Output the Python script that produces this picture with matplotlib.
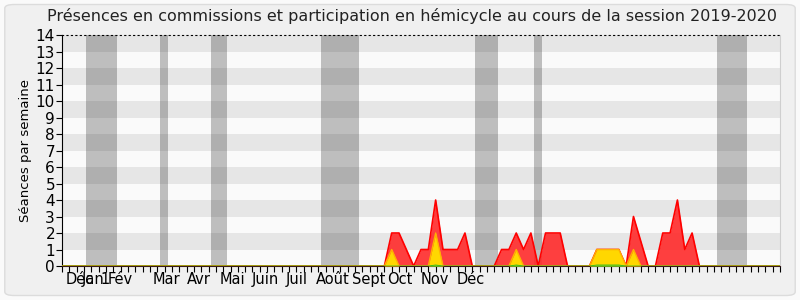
import matplotlib
matplotlib.use("Agg")
import matplotlib.pyplot as plt
from matplotlib.patches import FancyBboxPatch
import numpy as np

# weekly values (week index 0..98), only non-zero weeks listed
presence_weeks = [44, 45, 46, 47, 48, 49, 50, 51, 52, 53, 54, 55, 56,
                  59, 60, 61, 62, 63, 64, 65, 66, 67, 68, 69,
                  72, 73, 74, 75, 76, 77, 78, 79, 80, 81, 82, 83, 84, 85, 86, 87]
presence_vals = [0, 2, 2, 1, 0, 1, 1, 4, 1, 1, 1, 2, 0,
                 0, 1, 1, 2, 1, 2, 0, 2, 2, 2, 0,
                 0, 1, 1, 1, 1, 0, 3, 1.5, 0, 0, 2, 2, 4, 1, 2, 0]
hemicycle_weeks = [44, 45, 46, 50, 51, 52, 61, 62, 63, 72, 73, 74, 75, 76, 77, 78, 79]
hemicycle_vals = [0, 1, 0, 0, 2, 0, 0, 1, 0, 0, 1, 1, 1, 1, 0, 1, 0]
questions_weeks = [50, 51, 52, 61, 62, 63, 72, 73, 74, 75, 76, 77]
questions_vals = [0, 0.06, 0, 0, 0.06, 0, 0, 0.06, 0.06, 0.06, 0.06, 0]

# vacation periods (start, end) in weeks
vacances = [(3.28, 7.51), (13.37, 14.47), (20.34, 22.52), (35.35, 40.54),
            (56.37, 59.51), (64.42, 65.51), (89.39, 93.49)]

mois_pos = [2.46, 4.23, 5.87, 7.9, 14.2, 18.7, 23.3, 27.8, 32.1, 37.0, 41.9, 46.1, 50.9, 55.8]
mois_labels = ["Déc", "Jan", "1", "Fév", "Mar", "Avr", "Mai", "Juin", "Juil", "Août",
               "Sept", "Oct", "Nov", "Déc"]

n_weeks = 98


def full_series(weeks, vals):
    s = np.zeros(n_weeks + 1)
    for w, v in zip(weeks, vals):
        s[w] = v
    return s


x = np.arange(n_weeks + 1)
presence = full_series(presence_weeks, presence_vals)
hemicycle = full_series(hemicycle_weeks, hemicycle_vals)
questions = full_series(questions_weeks, questions_vals)

fig = plt.figure(figsize=(8, 3), dpi=100, facecolor="#fafafa")
fig.patches.append(FancyBboxPatch((0.006, 0.015), 0.988, 0.97, boxstyle="round,pad=0,rounding_size=0.012",
                                  transform=fig.transFigure, facecolor="#f0f0f0",
                                  edgecolor="#dcdcdc", linewidth=1, zorder=-10))
ax = fig.add_axes([0.0775, 0.1133, 0.8975, 0.77])
ax.set_facecolor("#fafafa")

for k in range(0, 14, 2):
    ax.axhspan(k + 1, k + 2, color="#e6e6e6", lw=0, zorder=0)
for a, b in vacances:
    ax.axvspan(a, b, color="black", alpha=0.24, lw=0, zorder=1)

ax.fill_between(x, presence, color="#ff2a2a", alpha=0.9, lw=0, zorder=2)
ax.plot(x, presence, color="#ff0000", lw=1.2, zorder=3)
ax.fill_between(x, hemicycle, color="#ffd700", lw=0, zorder=4)
ax.plot(x, hemicycle, color="#ffb000", lw=1.0, zorder=5)
ax.fill_between(x, questions, color="#33cc33", lw=0, zorder=6)
ax.plot(x, questions, color="#22bb22", lw=0.6, zorder=6)

ax.set_xlim(0, n_weeks)
ax.set_ylim(0, 14)
ax.set_yticks(range(0, 15))
ax.tick_params(axis="y", labelsize=11, length=4, pad=1)
ax.xaxis.remove_overlapping_locs = False
ax.set_xticks(range(0, n_weeks + 1))
ax.set_xticklabels([])
ax.tick_params(axis="x", which="major", length=4)
ax.set_xticks(mois_pos, mois_labels, minor=True)
ax.tick_params(axis="x", which="minor", length=0, labelsize=10.5, pad=4)

ax.spines["top"].set_linestyle((0, (1, 3)))
ax.spines["top"].set_color("black")
ax.spines["right"].set_color("#cfcfcf")
ax.spines["bottom"].set_color("#3a1a1a")

ax.set_ylabel("Séances par semaine", fontsize=9.5, labelpad=3)
fig.text(0.515, 0.945, "Présences en commissions et participation en hémicycle au cours de la session 2019-2020",
         ha="center", va="center", fontsize=11.5, color="#222222")

plt.savefig("out.png", dpi=100, facecolor=fig.get_facecolor())
